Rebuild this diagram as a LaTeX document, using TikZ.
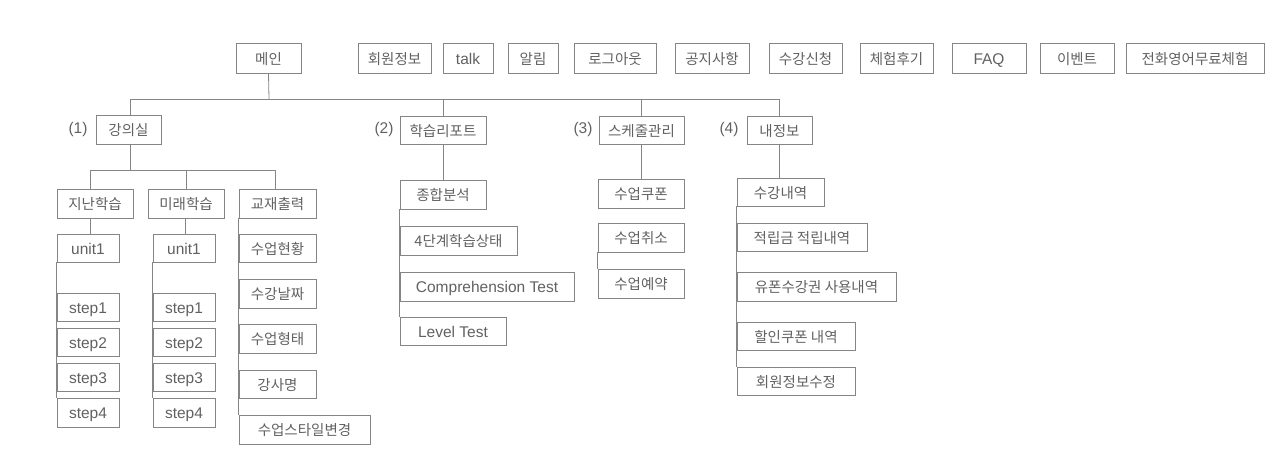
\documentclass[tikz,border=0pt]{standalone}
\usepackage{fontspec}
\setmainfont{Noto Sans CJK KR}
\newfontfamily\lat{Liberation Sans}
\definecolor{lnc}{rgb}{0.52,0.52,0.52}
\definecolor{txc}{rgb}{0.38,0.38,0.38}
\newcommand{\bx}[6]{%
  \pgfmathsetmacro{\bw}{#4-#2}\pgfmathsetmacro{\bh}{#5-#3}%
  \node[box,minimum width=\bw pt,minimum height=\bh pt] (#1) at ({(#2+#4)/2},{(#3+#5)/2}) {#6};}
\newcommand{\lt}[1]{{\lat\fontsize{15.5}{17}\selectfont #1}}
\tikzset{
  box/.style={draw=lnc,line width=0.8pt,inner sep=0pt,text=txc,font=\fontsize{14.5}{16}\selectfont,text height=12pt,text depth=0pt},
  conn/.style={draw=lnc,line width=0.8pt},
  lbl/.style={text=txc,inner sep=0pt,text height=12pt,text depth=0pt}
}
\begin{document}
\begin{tikzpicture}[x=1pt,y=-1pt]
\useasboundingbox (0,0) rectangle (1280,464);
% top row
\bx{main}{236}{43}{301}{73}{메인}
\bx{t1}{358}{43}{431}{73}{회원정보}
\bx{t2}{443}{43}{493}{73}{\lt{talk}}
\bx{t3}{508}{43}{558}{73}{알림}
\bx{t4}{574}{43}{656}{73}{로그아웃}
\bx{t5}{675}{43}{749}{73}{공지사항}
\bx{t6}{769}{43}{842}{73}{수강신청}
\bx{t7}{860}{43}{933}{73}{체험후기}
\bx{t8}{952}{43}{1026}{73}{\lt{FAQ}}
\bx{t9}{1040}{43}{1114}{73}{이벤트}
\bx{t10}{1126}{43}{1264}{73}{전화영어무료체험}
% level 1
\bx{lec}{96}{115}{161}{144}{강의실}
\bx{rep}{400}{116}{486}{144}{학습리포트}
\bx{sch}{599}{116}{684}{144}{스케줄관리}
\bx{info}{747}{116}{812}{144}{내정보}
\node[lbl] (l1) at (78,127) {\lt{(1)}};
\node[lbl] (l2) at (384,127) {\lt{(2)}};
\node[lbl] (l3) at (583,127) {\lt{(3)}};
\node[lbl] (l4) at (729,127) {\lt{(4)}};
\coordinate (bus) at (269,99);
\draw[conn] (main.south) -- (bus);
\draw[conn] ([xshift=1.5pt]lec.north) -- ([xshift=1.5pt]lec.north |- bus) -- (info.north |- bus) -- (info.north);
\draw[conn] (rep.north) -- (rep.north |- bus);
\draw[conn] (sch.north) -- (sch.north |- bus);
% lecture children
\bx{past}{57}{189}{133}{218}{지난학습}
\bx{fut}{148}{189}{224}{218}{미래학습}
\bx{prt}{239}{189}{316}{218}{교재출력}
\coordinate (bus2) at (130,170);
\draw[conn] ([xshift=1.5pt]lec.south) -- ([xshift=1.5pt]lec.south |- bus2);
\draw[conn] ([xshift=-5pt]past.north) -- ([xshift=-5pt]past.north |- bus2) -- ([xshift=-2.5pt]prt.north |- bus2) -- ([xshift=-2.5pt]prt.north);
\draw[conn] (fut.north) -- (fut.north |- bus2);
% past column
\bx{ua}{57}{234}{119}{262}{\lt{unit1}}
\bx{sa1}{57}{293}{119}{321}{\lt{step1}}
\bx{sa2}{57}{328}{119}{356}{\lt{step2}}
\bx{sa3}{57}{363}{119}{391}{\lt{step3}}
\bx{sa4}{57}{398}{119}{427}{\lt{step4}}
\draw[conn] ([xshift=-5pt]past.south) -- ([xshift=-5pt]past.south |- ua.north);
\draw[conn] (ua.south west) -- (sa4.north west);
% future column
\bx{ub}{153}{234}{215}{262}{\lt{unit1}}
\bx{sb1}{153}{293}{215}{321}{\lt{step1}}
\bx{sb2}{153}{328}{215}{356}{\lt{step2}}
\bx{sb3}{153}{363}{215}{391}{\lt{step3}}
\bx{sb4}{153}{398}{215}{427}{\lt{step4}}
\draw[conn] ([xshift=-1pt]fut.south) -- ([xshift=-1pt]fut.south |- ub.north);
\draw[conn] (ub.south west) -- (sb4.north west);
% print column
\bx{p1}{239}{234}{316}{262}{수업현황}
\bx{p2}{239}{279}{316}{308}{수강날짜}
\bx{p3}{239}{324}{316}{353}{수업형태}
\bx{p4}{239}{370}{316}{398}{강사명}
\bx{p5}{239}{415}{370}{444}{수업스타일변경}
\draw[conn] (prt.south west) -- (p5.north west);
% report column
\bx{r1}{400}{180}{486}{209}{종합분석}
\bx{r2}{400}{226}{517}{255}{4단계학습상태}
\bx{r3}{400}{272}{574}{301}{\lt{Comprehension Test}}
\bx{r4}{400}{317}{506}{345}{\lt{Level Test}}
\draw[conn] (rep.south) -- (r1.north);
\draw[conn] (r1.south west) -- (r4.north west);
% schedule column
\bx{s1}{598}{179}{684}{208}{수업쿠폰}
\bx{s2}{598}{223}{684}{252}{수업취소}
\bx{s3}{598}{269}{684}{298}{수업예약}
\draw[conn] (sch.south) -- (sch.south |- s1.north);
\draw[conn] (s2.south west) -- (s3.north west);
% info column
\bx{i1}{737}{178}{824}{206}{수강내역}
\bx{i2}{737}{223}{867}{251}{적립금 적립내역}
\bx{i3}{737}{272}{896}{301}{유폰수강권 사용내역}
\bx{i4}{737}{322}{855}{350}{할인쿠폰 내역}
\bx{i5}{737}{367}{855}{395}{회원정보수정}
\draw[conn] (info.south) -- (info.south |- i1.north);
\draw[conn] (i1.south west) -- (i5.north west);
\end{tikzpicture}
\end{document}
